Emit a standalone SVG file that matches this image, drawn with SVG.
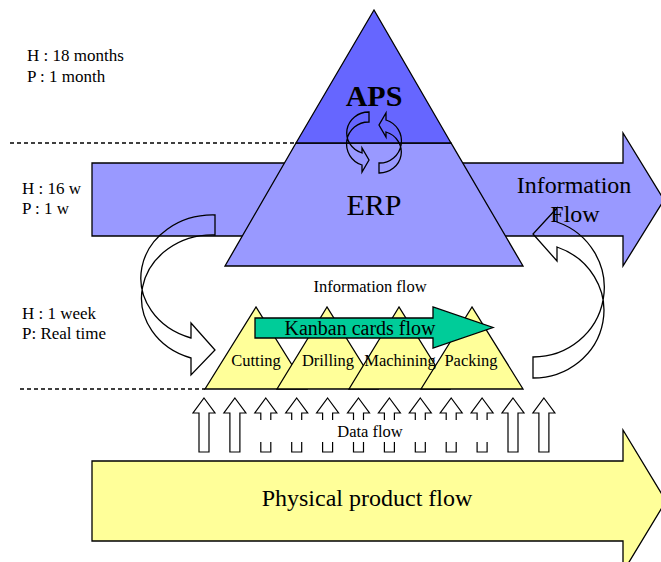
<svg xmlns="http://www.w3.org/2000/svg" xmlns:xlink="http://www.w3.org/1999/xlink" width="661" height="562" viewBox="0 0 661 562">
  <style>
    text { font-family: "Liberation Serif", "Times New Roman", serif; fill: #000; }
    .edge { stroke: #000; stroke-width: 1.3; stroke-linejoin: miter; }
    .line { fill: none; stroke: #000; stroke-width: 1.3; }
    .dash { fill: none; stroke: #000; stroke-width: 1.3; stroke-dasharray: 4 3; }
    .up { fill: #fff; stroke: #000; stroke-width: 1.2; }
    .lbl { font-size: 17px; }
    .small { font-size: 16.5px; text-anchor: middle; }
    .big { font-size: 24px; text-anchor: middle; }
    .tri { fill: #FFFF99; }
  </style>
  <defs>
    <!-- hollow upward block arrow used for the data flow -->
    <path id="uparrow" d="M0,0 L11,15 L5,15 L5,54 L-5,54 L-5,15 L-11,15 Z"/>
    <!-- small circular arrow half inside the APS / ERP pyramid -->
    <path id="cycle" d="M369,112 A22,21 0 0 0 362,153 L362,148 L369,160 L362,172 L362,165 A22,22 0 0 1 369,122 Z"/>
  </defs>

  <!-- planning horizon arrow of the information system -->
  <g id="information-flow">
    <path class="edge" fill="#9999FF" d="M92,163 L623,163 L623,133 L664,200 L623,266 L623,236 L92,236 Z"/>
  </g>

  <!-- APS / ERP pyramid -->
  <g id="pyramid">
    <polygon class="edge" fill="#9999FF" points="296,143 225,266 523,266 451,143"/>
    <polygon class="edge" fill="#6666FF" points="374,10 296,143 451,143"/>
    <text x="374" y="106" font-size="30" font-weight="bold" text-anchor="middle">APS</text>
    <text x="374" y="215" font-size="30" text-anchor="middle">ERP</text>
  </g>

  <text class="big" x="574" y="193">Information</text>
  <text class="big" x="575" y="222">Flow</text>

  <!-- horizon separators -->
  <line class="dash" x1="10" y1="143" x2="296" y2="143"/>
  <line class="dash" x1="20" y1="389" x2="205" y2="389"/>

  <!-- horizon / period labels -->
  <g id="labels">
    <text class="lbl" x="27" y="61">H : 18 months</text>
    <text class="lbl" x="27" y="82">P : 1 month</text>
    <text class="lbl" x="22" y="194">H : 16 w</text>
    <text class="lbl" x="22" y="214">P : 1 w</text>
    <text class="lbl" x="22" y="319">H : 1 week</text>
    <text class="lbl" x="22" y="339">P: Real time</text>
  </g>

  <!-- shop floor workstations -->
  <g id="cutting"><polygon class="edge tri" points="256,307 205,389 307,389"/></g>
  <g id="drilling"><polygon class="edge tri" points="327,307 277,389 378,389"/></g>
  <g id="machining"><polygon class="edge tri" points="399,307 349,389 450,389"/></g>
  <g id="packing"><polygon class="edge tri" points="472,307 421,389 523,389"/></g>

  <g id="kanban-flow">
    <path class="edge" fill="#00CC99" d="M255,318 L433,318 L433,307 L493,327.5 L433,348 L433,338 L255,338 Z"/>
    <text x="360" y="335" font-size="20" text-anchor="middle">Kanban cards flow</text>
  </g>

  <g id="station-labels">
    <text class="small" x="256" y="366">Cutting</text>
    <text class="small" x="328" y="366">Drilling</text>
    <text class="small" x="400" y="366">Machining</text>
    <text class="small" x="471" y="366">Packing</text>
  </g>

  <text class="small" x="370" y="292">Information flow</text>

  <!-- connectors -->
  <g id="connectors">
    <use xlink:href="#cycle" class="line"/>
    <use xlink:href="#cycle" class="line" transform="rotate(180 374 142.5)"/>
    <path class="line" d="M215,215 A72,63 0 0 0 191,338 L191,323 L215,350 L191,375 L191,358 A71,63 0 0 1 215,235 Z"/>
    <path class="line" d="M533,357 A71,69.5 0 0 0 557,222 L557,208 L533,234 L557,261 L557,247 A71,67.5 0 0 1 533,378 Z"/>
    <g class="up">
      <use xlink:href="#uparrow" x="204" y="398"/>
      <use xlink:href="#uparrow" x="234.9" y="398"/>
      <use xlink:href="#uparrow" x="265.8" y="398"/>
      <use xlink:href="#uparrow" x="296.7" y="398"/>
      <use xlink:href="#uparrow" x="327.6" y="398"/>
      <use xlink:href="#uparrow" x="358.5" y="398"/>
      <use xlink:href="#uparrow" x="389.4" y="398"/>
      <use xlink:href="#uparrow" x="420.3" y="398"/>
      <use xlink:href="#uparrow" x="451.2" y="398"/>
      <use xlink:href="#uparrow" x="482.1" y="398"/>
      <use xlink:href="#uparrow" x="513" y="398"/>
      <use xlink:href="#uparrow" x="543.9" y="398"/>
    </g>
  </g>

  <g id="data-flow-label">
    <rect x="249" y="420" width="251" height="22" fill="#fff"/>
    <text class="small" x="370" y="437">Data flow</text>
  </g>

  <!-- material flow -->
  <g id="physical-flow">
    <path class="edge" fill="#FFFF99" d="M92,461 L623,461 L623,430 L666,501 L623,572 L623,541 L92,541 Z"/>
    <text class="big" x="367" y="506">Physical product flow</text>
  </g>
</svg>
